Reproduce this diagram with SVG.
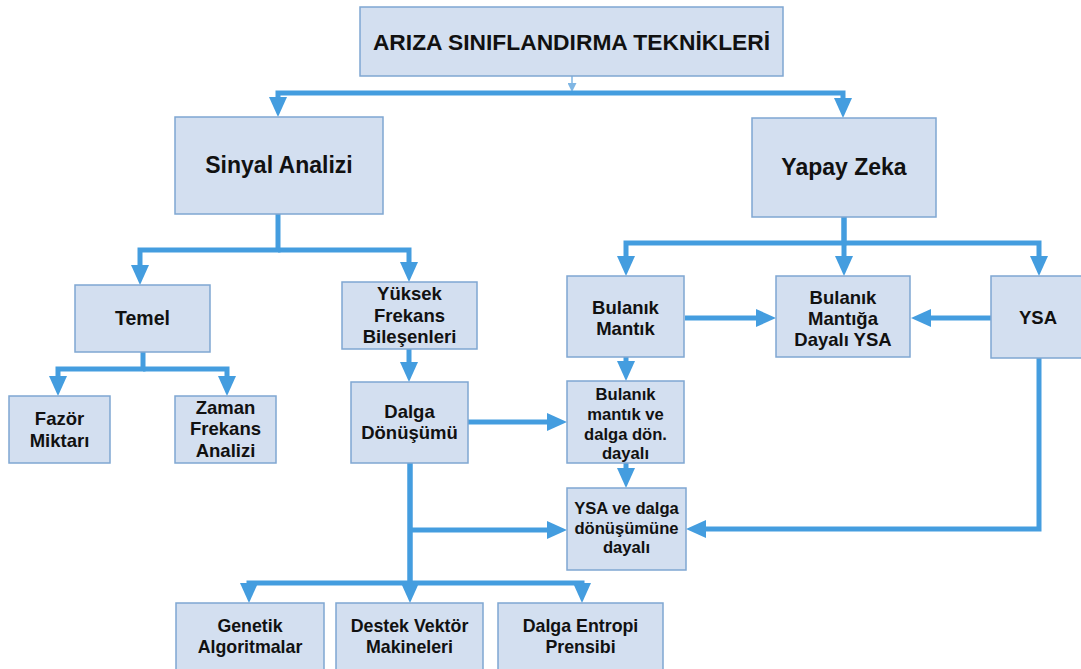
<svg xmlns="http://www.w3.org/2000/svg" width="1081" height="669" viewBox="0 0 1081 669">
  <style>
    .box { fill: #d3dff0; stroke: #7fa7d2; stroke-width: 1.5; }
    .lbl { font-family: "Liberation Sans", Arial, sans-serif; font-weight: bold; fill: #111; text-anchor: middle; }
    .t0 { font-size: 22.8px; }
    .t1 { font-size: 23px; }
    .t2 { font-size: 18.5px; }
    .t3 { font-size: 16.6px; }
    .t4 { font-size: 17.8px; }
    .wire { fill: none; stroke: #449ddf; stroke-width: 5; stroke-linejoin: miter; marker-end: url(#ah); }
  </style>
  <defs>
    <marker id="ah" markerUnits="userSpaceOnUse" markerWidth="20" markerHeight="18" viewBox="0 0 20 18" refX="2" refY="9" orient="auto">
      <path d="M0,0 L20,9 L0,18 Z" fill="#449ddf"/>
    </marker>
    <marker id="ahs" markerUnits="userSpaceOnUse" markerWidth="9" markerHeight="9" viewBox="0 0 9 9" refX="1" refY="4.5" orient="auto">
      <path d="M0,0 L9,4.5 L0,9 Z" fill="#7fb6e4"/>
    </marker>
  </defs>

  <rect width="1081" height="669" fill="#ffffff"/>

  <!-- connectors -->
  <g id="connectors">
    <path d="M572,76 V84" fill="none" stroke="#7fb6e4" stroke-width="1.5" marker-end="url(#ahs)"/>
    <path class="wire" d="M572,93 H278 V99"/>
    <path class="wire" d="M572,93 H843 V100"/>

    <path class="wire" d="M278,214 V250 H140 V267"/>
    <path class="wire" d="M278,250 H409 V264"/>

    <path class="wire" d="M143,352 V369 H58 V378"/>
    <path class="wire" d="M143,369 H227 V378"/>

    <path class="wire" d="M409,349 V364"/>
    <path class="wire" d="M468,422 H549"/>

    <path class="wire" d="M410,463 V583 H249 V585"/>
    <path class="wire" d="M410,463 V585"/>
    <path class="wire" d="M410,583 H582 V585"/>
    <path class="wire" d="M410,530 H549"/>

    <path class="wire" d="M844,217 V243 H626 V258"/>
    <path class="wire" d="M844,217 V258"/>
    <path class="wire" d="M844,243 H1039 V258"/>

    <path class="wire" d="M685,318 H758"/>
    <path class="wire" d="M991,318 H929"/>
    <path class="wire" d="M626,357 V363"/>
    <path class="wire" d="M626,463 V470"/>
    <path class="wire" d="M1039,358 V529 H704"/>
  </g>

  <g id="root">
    <rect class="box" x="360" y="7" width="423" height="69"/>
    <text class="lbl t0" x="571.5" y="50">ARIZA SINIFLANDIRMA TEKNİKLERİ</text>
  </g>

  <g id="sinyal-analizi">
    <rect class="box" x="175" y="117" width="208" height="97"/>
    <text class="lbl t1" x="279" y="173">Sinyal Analizi</text>
  </g>

  <g id="yapay-zeka">
    <rect class="box" x="752" y="118" width="184" height="99"/>
    <text class="lbl t1" x="844" y="175">Yapay Zeka</text>
  </g>

  <g id="temel">
    <rect class="box" x="75" y="285" width="135" height="67"/>
    <text class="lbl t2" x="142.5" y="325" style="font-size:19.5px">Temel</text>
  </g>

  <g id="fazor-miktari">
    <rect class="box" x="9" y="396" width="101" height="67"/>
    <text class="lbl t2" x="59.5" y="425">Fazör</text>
    <text class="lbl t2" x="59.5" y="447">Miktarı</text>
  </g>

  <g id="zaman-frekans">
    <rect class="box" x="175" y="396" width="101" height="67"/>
    <text class="lbl t2" x="225.5" y="414">Zaman</text>
    <text class="lbl t2" x="225.5" y="435">Frekans</text>
    <text class="lbl t2" x="225.5" y="457">Analizi</text>
  </g>

  <g id="yuksek-frekans">
    <rect class="box" x="342" y="282" width="135" height="67"/>
    <text class="lbl t2" x="409.5" y="300">Yüksek</text>
    <text class="lbl t2" x="409.5" y="322">Frekans</text>
    <text class="lbl t2" x="409.5" y="343">Bileşenleri</text>
  </g>

  <g id="dalga-donusumu">
    <rect class="box" x="351" y="382" width="117" height="81"/>
    <text class="lbl t2" x="409.5" y="418">Dalga</text>
    <text class="lbl t2" x="409.5" y="439">Dönüşümü</text>
  </g>

  <g id="bulanik-mantik">
    <rect class="box" x="567" y="276" width="117" height="81"/>
    <text class="lbl t2" x="625.5" y="314">Bulanık</text>
    <text class="lbl t2" x="625.5" y="335">Mantık</text>
  </g>

  <g id="bulanik-ysa">
    <rect class="box" x="776" y="276" width="134" height="81"/>
    <text class="lbl t2" x="843" y="304">Bulanık</text>
    <text class="lbl t2" x="843" y="325">Mantığa</text>
    <text class="lbl t2" x="843" y="346">Dayalı YSA</text>
  </g>

  <g id="ysa">
    <rect class="box" x="991" y="276" width="100" height="82"/>
    <text class="lbl t2" x="1038" y="324">YSA</text>
  </g>

  <g id="bulanik-dalga">
    <rect class="box" x="567" y="381" width="117" height="82"/>
    <text class="lbl t3" x="625.5" y="400">Bulanık</text>
    <text class="lbl t3" x="625.5" y="420">mantık ve</text>
    <text class="lbl t3" x="625.5" y="440">dalga dön.</text>
    <text class="lbl t3" x="625.5" y="459">dayalı</text>
  </g>

  <g id="ysa-dalga">
    <rect class="box" x="567" y="488" width="119" height="82"/>
    <text class="lbl t3" x="626.5" y="514">YSA ve dalga</text>
    <text class="lbl t3" x="626.5" y="534">dönüşümüne</text>
    <text class="lbl t3" x="626.5" y="553">dayalı</text>
  </g>

  <g id="genetik">
    <rect class="box" x="176" y="603" width="148" height="70"/>
    <text class="lbl t4" x="250" y="632">Genetik</text>
    <text class="lbl t4" x="250" y="653">Algoritmalar</text>
  </g>

  <g id="destek-vektor">
    <rect class="box" x="336" y="603" width="147" height="70"/>
    <text class="lbl t4" x="409.5" y="632">Destek Vektör</text>
    <text class="lbl t4" x="409.5" y="653">Makineleri</text>
  </g>

  <g id="dalga-entropi">
    <rect class="box" x="498" y="603" width="165" height="70"/>
    <text class="lbl t4" x="580.5" y="632">Dalga Entropi</text>
    <text class="lbl t4" x="580.5" y="653">Prensibi</text>
  </g>
</svg>
